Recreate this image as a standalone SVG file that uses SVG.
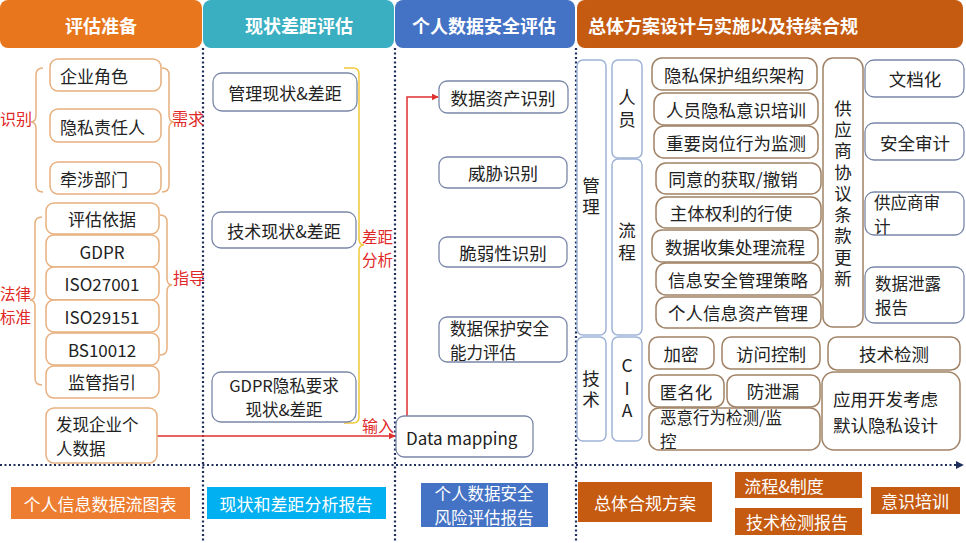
<svg xmlns="http://www.w3.org/2000/svg" width="966" height="543" viewBox="0 0 966 543">
<style>
text{font-family:"Noto Sans CJK SC","Noto Sans",sans-serif;dominant-baseline:central;fill:#222}
.hd{fill:#fff;font-size:18px;font-weight:bold}
.t{font-size:17px}
.t18{font-size:17.5px}
.m{font-size:16.5px}
.c{text-anchor:middle}
.v{writing-mode:vertical-rl;text-anchor:middle;font-size:17.5px}
.red{fill:#E02828;font-size:16px}
.red2{fill:#E02828;font-size:15.5px}
.wt{fill:#fff;font-size:17px;text-anchor:middle}
.wt2{fill:#fff;font-size:16.5px;text-anchor:middle}
.b1{fill:#fff;stroke:#E8B07E;stroke-width:1.5}
.b2{fill:#fff;stroke:#7A88A8;stroke-width:1.3}
.b3{fill:#fff;stroke:#A08266;stroke-width:1.5}
.b4{fill:#fff;stroke:#9FB3D6;stroke-width:1.5}
.dot{stroke:#1F2F5C;stroke-width:2.2;stroke-dasharray:2 2.5;fill:none}
.br{fill:none;stroke:#E8B07E;stroke-width:1.5}
.rl{fill:none;stroke:#E03030;stroke-width:1.5}
</style>
<defs>
<marker id="ar" viewBox="0 0 10 10" refX="9" refY="5" markerWidth="7" markerHeight="7" orient="auto" markerUnits="userSpaceOnUse"><path d="M0,0 L10,5 L0,10 z" fill="#E03030"/></marker>
<marker id="an" viewBox="0 0 10 10" refX="9" refY="5" markerWidth="8" markerHeight="8" orient="auto" markerUnits="userSpaceOnUse"><path d="M0,0 L10,5 L0,10 z" fill="#1F2F5C"/></marker>
</defs>
<rect width="966" height="543" fill="#fff"/>

<g id="headers">
<rect x="0" y="0" width="202" height="48" rx="8" fill="#E8761C"/>
<text class="hd c" x="101" y="25">评估准备</text>
<rect x="203" y="0" width="191" height="48" rx="8" fill="#3AAFC2"/>
<text class="hd c" x="299" y="25">现状差距评估</text>
<rect x="395" y="0" width="180" height="48" rx="8" fill="#4472C4"/>
<text class="hd c" x="484" y="25">个人数据安全评估</text>
<rect x="577" y="0" width="386" height="48" rx="8" fill="#C55A11"/>
<text class="hd" x="588" y="25">总体方案设计与实施以及持续合规</text>
</g>

<g id="gridlines">
<line class="dot" x1="203" y1="48" x2="203" y2="543"/>
<line class="dot" x1="395" y1="48" x2="395" y2="543"/>
<line class="dot" x1="576" y1="48" x2="576" y2="543"/>
<line class="dot" x1="0" y1="465" x2="963" y2="465" marker-end="url(#an)"/>
</g>

<g id="connectors">
<path class="br" d="M43,68 Q36,68 36,75 L36,115 Q36,122 31,122 Q36,122 36,129 L36,185 Q36,192 43,192"/>
<path class="br" d="M162,68 Q169,68 169,75 L169,115 Q169,122 174,122 Q169,122 169,129 L169,185 Q169,192 162,192"/>
<path class="br" d="M42,217 Q35,217 35,224 L35,293 Q35,300 30,300 Q35,300 35,307 L35,378 Q35,385 42,385"/>
<path class="br" d="M160,215 Q167,215 167,222 L167,278 Q167,285 172,285 Q167,285 167,292 L167,348 Q167,355 160,355"/>
<path fill="none" stroke="#F2C83A" stroke-width="1.5" d="M344,68 L353,68 Q359,68 359,74 L359,239 Q359,245 364,245 Q359,245 359,251 L359,417 Q359,423 353,423 L344,423"/>
<path class="rl" d="M157,436 L395,436" marker-end="url(#ar)"/>
<path class="rl" d="M407,416 L407,97 L438,97" marker-end="url(#ar)"/>
<text class="red" x="0" y="118">识别</text>
<text class="red" x="172" y="118">需求</text>
<text class="red2" x="0" y="293">法律<tspan x="0" dy="22.5">标准</tspan></text>
<text class="red" x="173" y="277">指导</text>
<text class="red2" x="362" y="236">差距<tspan x="362" dy="22.5">分析</tspan></text>
<text class="red" x="362" y="425">输入</text>
</g>

<g id="col1">
<g id="n-qiyejuese"><rect class="b1" x="50" y="59" width="111" height="32" rx="8"/><text class="t" x="60" y="75">企业角色</text></g>
<g id="n-yinsizeren"><rect class="b1" x="50" y="109" width="111" height="33" rx="8"/><text class="t" x="60" y="126">隐私责任人</text></g>
<g id="n-qianshe"><rect class="b1" x="50" y="162" width="111" height="32" rx="8"/><text class="t" x="60" y="178">牵涉部门</text></g>
<g id="n-pinggu"><rect class="b1" x="46" y="203" width="113" height="31" rx="8"/><text class="t c" x="102" y="218">评估依据</text></g>
<g id="n-gdpr"><rect class="b1" x="46" y="235" width="113" height="32" rx="8"/><text class="t c" x="102" y="251">GDPR</text></g>
<g id="n-iso27001"><rect class="b1" x="46" y="267" width="113" height="33" rx="8"/><text class="t c" x="102" y="283">ISO27001</text></g>
<g id="n-iso29151"><rect class="b1" x="46" y="300" width="113" height="32" rx="8"/><text class="t c" x="102" y="316">ISO29151</text></g>
<g id="n-bs10012"><rect class="b1" x="46" y="333" width="113" height="32" rx="8"/><text class="t c" x="102" y="349">BS10012</text></g>
<g id="n-jianguan"><rect class="b1" x="46" y="366" width="113" height="32" rx="8"/><text class="t c" x="102" y="381">监管指引</text></g>
<g id="n-faxian"><rect class="b1" x="46" y="408" width="111" height="55" rx="8"/><text class="m" x="56" y="424">发现企业个<tspan x="56" dy="24">人数据</tspan></text></g>
</g>

<g id="col2">
<g id="n-guanli"><rect class="b2" x="213" y="73" width="144" height="38" rx="9"/><text class="t c" x="285" y="92">管理现状&amp;差距</text></g>
<g id="n-jishu"><rect class="b2" x="212" y="212" width="144" height="36" rx="9"/><text class="t c" x="284" y="230">技术现状&amp;差距</text></g>
<g id="n-gdprgap"><rect class="b2" x="212" y="372" width="144" height="50" rx="9"/><text class="m c" x="284" y="385">GDPR隐私要求<tspan x="284" dy="24">现状&amp;差距</tspan></text></g>
</g>

<g id="col3">
<g id="n-zichan"><rect class="b2" x="439" y="81" width="129" height="32" rx="8"/><text class="t18 c" x="503" y="97">数据资产识别</text></g>
<g id="n-weixie"><rect class="b2" x="439" y="157" width="128" height="31" rx="8"/><text class="t18 c" x="503" y="172">威胁识别</text></g>
<g id="n-cuiruo"><rect class="b2" x="439" y="237" width="128" height="30" rx="8"/><text class="t18 c" x="503" y="252">脆弱性识别</text></g>
<g id="n-nengli"><rect class="b2" x="439" y="317" width="128" height="45" rx="8"/><text class="m" x="450" y="328">数据保护安全<tspan x="450" dy="24">能力评估</tspan></text></g>
<g id="n-datamap"><rect class="b2" x="396" y="416" width="137" height="41" rx="8"/><text class="t" x="406" y="437">Data mapping</text></g>
</g>

<g id="col4">
<g id="n-guanli4"><rect class="b4" x="577" y="60" width="29" height="275" rx="6"/><text class="v" x="591" y="197.5" letter-spacing="3.5">管理</text></g>
<g id="n-renyuan"><rect class="b4" x="612" y="60" width="30" height="98" rx="6"/><text class="v" x="627" y="111" letter-spacing="4.5">人员</text></g>
<g id="n-liucheng"><rect class="b4" x="612" y="159" width="30" height="176" rx="6"/><text class="v" x="627" y="244" letter-spacing="4.5">流程</text></g>
<g id="n-jishu4"><rect class="b4" x="577" y="337" width="29" height="104" rx="6"/><text class="v" x="591" y="390.5" letter-spacing="3.5">技术</text></g>
<g id="n-cia"><rect class="b4" x="612" y="337" width="30" height="104" rx="6"/><text class="v" x="627" y="390.5" letter-spacing="5" style="text-orientation:upright">CIA</text></g>

<g id="n-zuzhi"><rect class="b3" x="652" y="58" width="165" height="32" rx="10"/><text class="t18 c" x="734" y="74">隐私保护组织架构</text></g>
<g id="n-peixun"><rect class="b3" x="654" y="93" width="164" height="32" rx="10"/><text class="t18 c" x="736" y="109">人员隐私意识培训</text></g>
<g id="n-gangwei"><rect class="b3" x="654" y="126" width="164" height="32" rx="10"/><text class="t18 c" x="736" y="142">重要岗位行为监测</text></g>
<g id="n-tongyi"><rect class="b3" x="656" y="163" width="165" height="31" rx="10"/><text class="t18 c" x="733" y="178">同意的获取/撤销</text></g>
<g id="n-quanli"><rect class="b3" x="656" y="197" width="165" height="31" rx="10"/><text class="t18 c" x="731" y="212">主体权利的行使</text></g>
<g id="n-shouji"><rect class="b3" x="652" y="230" width="166" height="32" rx="10"/><text class="t18 c" x="735" y="246">数据收集处理流程</text></g>
<g id="n-celue"><rect class="b3" x="656" y="263" width="165" height="32" rx="10"/><text class="t18 c" x="738" y="279">信息安全管理策略</text></g>
<g id="n-zichanguanli"><rect class="b3" x="656" y="297" width="165" height="31" rx="10"/><text class="t18 c" x="738" y="312">个人信息资产管理</text></g>

<g id="n-gongying"><rect class="b3" x="823" y="58" width="40" height="269" rx="10"/>
<text class="v" x="843" y="195" letter-spacing="3.75">供应商协议条款更新</text></g>

<g id="n-wendang"><rect class="b2" x="865" y="60" width="99" height="37" rx="9"/><text class="t18 c" x="915" y="78">文档化</text></g>
<g id="n-shenji"><rect class="b2" x="865" y="123" width="99" height="37" rx="9"/><text class="t18 c" x="915" y="142">安全审计</text></g>
<g id="n-gysj"><rect class="b2" x="865" y="192" width="99" height="43" rx="9"/><text class="m" x="874" y="202">供应商审<tspan x="874" dy="24">计</tspan></text></g>
<g id="n-xielu"><rect class="b2" x="865" y="267" width="99" height="56" rx="9"/><text class="m" x="875" y="283">数据泄露<tspan x="875" dy="24">报告</tspan></text></g>

<g id="n-jiami"><rect class="b3" x="649" y="337" width="65" height="32" rx="9"/><text class="t18 c" x="681" y="353">加密</text></g>
<g id="n-fangwen"><rect class="b3" x="722" y="337" width="98" height="32" rx="9"/><text class="t18 c" x="771" y="353">访问控制</text></g>
<g id="n-jishujiance"><rect class="b3" x="828" y="337" width="132" height="33" rx="9"/><text class="t18 c" x="894" y="353">技术检测</text></g>
<g id="n-niming"><rect class="b3" x="649" y="375" width="75" height="32" rx="9"/><text class="t18 c" x="686" y="391">匿名化</text></g>
<g id="n-fangxie"><rect class="b3" x="727" y="375" width="93" height="32" rx="9"/><text class="t18 c" x="773" y="390">防泄漏</text></g>
<g id="n-eyi"><rect class="b3" x="649" y="408" width="171" height="42" rx="10"/><text class="m" x="660" y="417">恶意行为检测/监<tspan x="660" dy="24">控</tspan></text></g>
<g id="n-yingyong"><rect class="b3" x="822" y="372" width="138" height="78" rx="12"/><text class="t18" x="833" y="398">应用开发考虑<tspan x="833" dy="26">默认隐私设计</tspan></text></g>
</g>

<g id="outputs">
<g id="o1"><rect x="11" y="487" width="179" height="32" fill="#ED7D31"/><text class="wt" x="100" y="503">个人信息数据流图表</text></g>
<g id="o2"><rect x="207" y="487" width="179" height="32" fill="#00B0F0"/><text class="wt" x="296" y="503">现状和差距分析报告</text></g>
<g id="o3"><rect x="421" y="483" width="127" height="44" fill="#4472C4"/><text class="wt2" x="484" y="493">个人数据安全<tspan x="484" dy="24">风险评估报告</tspan></text></g>
<g id="o4"><rect x="578" y="482" width="134" height="40" fill="#C55A11"/><text class="wt" x="645" y="502">总体合规方案</text></g>
<g id="o5"><rect x="735" y="472" width="127" height="26" fill="#C55A11"/><text class="wt" x="784" y="485">流程&amp;制度</text></g>
<g id="o6"><rect x="735" y="508" width="127" height="27" fill="#C55A11"/><text class="wt" x="797" y="521">技术检测报告</text></g>
<g id="o7"><rect x="871" y="487" width="89" height="27" fill="#C55A11"/><text class="wt" x="915" y="500">意识培训</text></g>
</g>
</svg>
